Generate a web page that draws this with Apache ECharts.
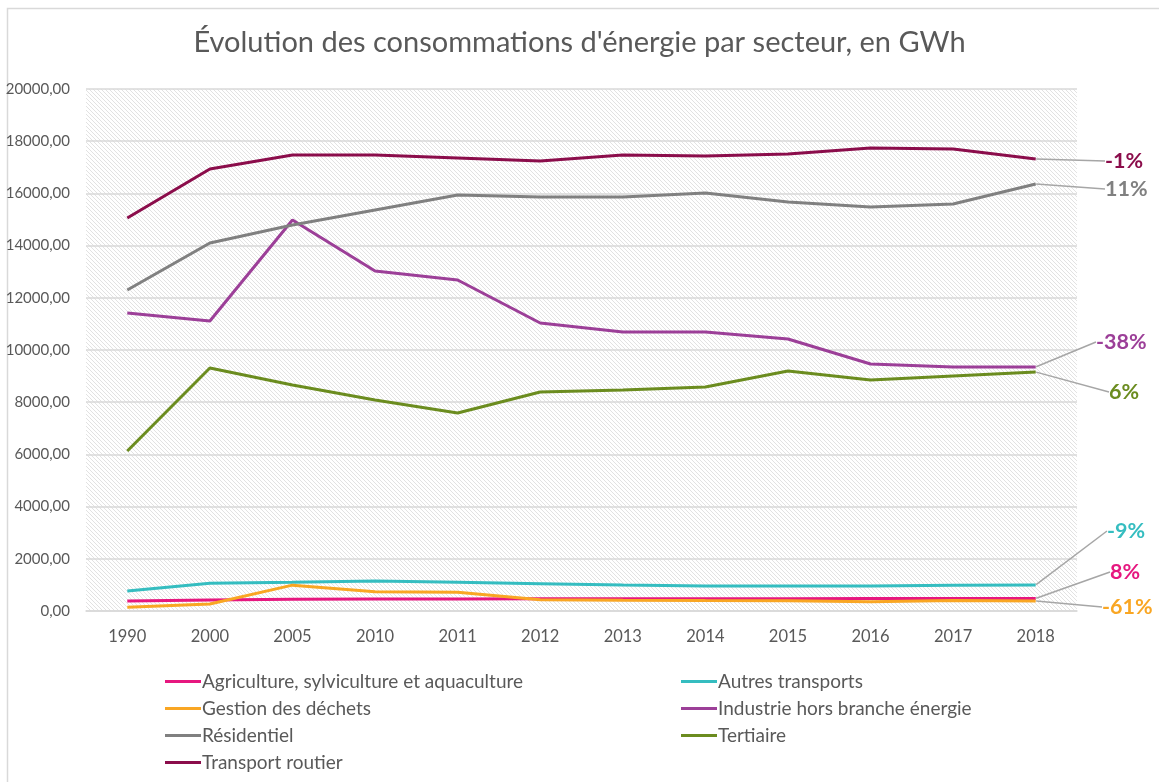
<!DOCTYPE html>
<html>
<head>
<meta charset="utf-8">
<script src="https://cdn.jsdelivr.net/npm/echarts@6/dist/echarts.min.js"></script>
<style>
  html, body { margin: 0; padding: 0; background: #ffffff; }
  #chart { width: 1159px; height: 782px; }
</style>
</head>
<body>
<div id="chart"></div>
<script>
// Années et consommations par secteur (GWh)
const years = ['1990', '2000', '2005', '2010', '2011', '2012', '2013', '2014', '2015', '2016', '2017', '2018'];

const agriculture = [383, 421, 447, 460, 462, 465, 470, 472, 474, 476, 480, 483];
const autresTransports = [766, 1060, 1098, 1149, 1098, 1047, 996, 958, 958, 958, 984, 996];
const gestionDechets = [140, 268, 990, 740, 715, 434, 409, 400, 395, 357, 400, 386];
const industrie = [11417, 11111, 14981, 13027, 12682, 11034, 10690, 10690, 10422, 9464, 9349, 9349];
const residentiel = [12298, 14099, 14789, 15364, 15939, 15862, 15862, 16015, 15670, 15478, 15594, 16360];
const tertiaire = [6130, 9310, 8659, 8084, 7586, 8391, 8467, 8582, 9195, 8850, 9004, 9157];
const transportRoutier = [15057, 16935, 17471, 17470, 17356, 17241, 17471, 17433, 17510, 17739, 17701, 17318];

const seriesNames = [
  'Agriculture, sylviculture et aquaculture',
  'Autres transports',
  'Gestion des déchets',
  'Industrie hors branche énergie',
  'Résidentiel',
  'Tertiaire',
  'Transport routier'
];
const seriesValues = [agriculture, autresTransports, gestionDechets, industrie, residentiel, tertiaire, transportRoutier];
const seriesColors = ['#e6177f', '#35bdc0', '#f9a623', '#9c3f98', '#808080', '#6b8c1f', '#8b0d4b'];
const yTicks = { min: 0, max: 20000, interval: 2000 };
const referenceYear = '2005';

// Placement des étiquettes d'évolution à droite du graphique (pixels)
const endLabelPos = {
  'Transport routier': [1100, 161],
  'Résidentiel': [1100, 189],
  'Industrie hors branche énergie': [1091, 342],
  'Tertiaire': [1104, 392],
  'Autres transports': [1102, 531],
  'Agriculture, sylviculture et aquaculture': [1105, 572],
  'Gestion des déchets': [1097, 607]
};

// Motif hachuré du fond de la zone de tracé
function hatchPattern() {
  const c = document.createElement('canvas');
  c.width = 4; c.height = 4;
  const ctx = c.getContext('2d');
  ctx.fillStyle = '#ffffff';
  ctx.fillRect(0, 0, 4, 4);
  ctx.strokeStyle = '#e2e2e2';
  ctx.lineWidth = 1;
  ctx.beginPath();
  ctx.moveTo(-1, -1); ctx.lineTo(5, 5);
  ctx.moveTo(-1, 3); ctx.lineTo(1, 5);
  ctx.moveTo(3, -1); ctx.lineTo(5, 1);
  ctx.stroke();
  return c;
}

const FONT = 'Lato, "Open Sans", sans-serif';
const refIdx = years.indexOf(referenceYear);

function evolution(vals) {
  const last = vals[vals.length - 1];
  const pct = Math.round((last / vals[refIdx] - 1) * 100);
  return pct + '%';
}

const series = seriesNames.map((name, i) => {
  const vals = seriesValues[i];
  const lastIdx = vals.length - 1;
  const data = vals.map((v, j) => {
    if (j === lastIdx) {
      return {
        value: v,
        label: {
          show: true,
          formatter: evolution(vals),
          color: seriesColors[i],
          fontSize: 21.5,
          fontWeight: 'bold',
          fontFamily: FONT,
          padding: [0, 0, 0, 5]
        },
        labelLine: { show: true, lineStyle: { color: '#a6a6a6', width: 1.5 } }
      };
    }
    return v;
  });
  return {
    name: name,
    type: 'line',
    data: data,
    symbol: 'circle',
    symbolSize: 1,
    showSymbol: true,
    showAllSymbol: true,
    itemStyle: { color: 'rgba(0,0,0,0)', borderWidth: 0 },
    smooth: false,
    lineStyle: { width: 3, color: seriesColors[i] },
    label: { show: false },
    labelLine: { show: false },
    labelLayout: function (params) {
      if (params.dataIndex !== lastIdx) return {};
      const p = endLabelPos[name];
      return { x: p[0], y: p[1], align: 'left', verticalAlign: 'middle' };
    },
    emphasis: { disabled: true }
  };
});

const chart = echarts.init(document.getElementById('chart'), null, { renderer: 'canvas' });

const legendBase = {
  orient: 'vertical',
  itemWidth: 36,
  itemHeight: 3,
  itemGap: 8,
  icon: 'rect',
  textStyle: { color: '#595959', fontSize: 19, fontFamily: FONT, padding: [0, 0, 0, -4] },
  top: 667
};

function legendItems(indices) {
  return indices.map(k => ({
    name: seriesNames[k],
    itemStyle: { color: seriesColors[k], opacity: 1 }
  }));
}

chart.setOption({
  animation: false,
  backgroundColor: '#ffffff',
  title: {
    text: "Évolution des consommations d'énergie par secteur, en GWh",
    left: 'center',
    top: 23,
    textStyle: { color: '#595959', fontSize: 29, fontWeight: 'normal', fontFamily: FONT }
  },
  legend: [
    Object.assign({}, legendBase, { left: 160, data: legendItems([0, 2, 4, 6]) }),
    Object.assign({}, legendBase, { left: 676, data: legendItems([1, 3, 5]) })
  ],
  grid: {
    left: 86,
    right: 82,
    top: 89,
    bottom: 171,
    show: true,
    borderWidth: 0,
    backgroundColor: { image: hatchPattern(), repeat: 'repeat' }
  },
  xAxis: {
    type: 'category',
    data: years,
    boundaryGap: true,
    axisLine: { show: true, lineStyle: { color: '#d9d9d9', width: 1.5 } },
    axisTick: { show: false },
    axisLabel: { color: '#595959', fontSize: 16.5, fontFamily: FONT, margin: 17 }
  },
  yAxis: {
    type: 'value',
    min: yTicks.min,
    max: yTicks.max,
    interval: yTicks.interval,
    axisLine: { show: false },
    axisTick: { show: false },
    splitLine: { lineStyle: { color: '#d9d9d9', width: 1.5 } },
    axisLabel: {
      color: '#595959',
      fontSize: 15,
      fontFamily: FONT,
      margin: 16,
      formatter: v => v.toFixed(2).replace('.', ',')
    }
  },
  graphic: [{
    type: 'rect',
    shape: { x: 7.5, y: 8.5, width: 1200, height: 900 },
    style: { fill: 'none', stroke: '#d9d9d9', lineWidth: 1.5 },
    silent: true
  }],
  series: series
});
</script>
</body>
</html>
